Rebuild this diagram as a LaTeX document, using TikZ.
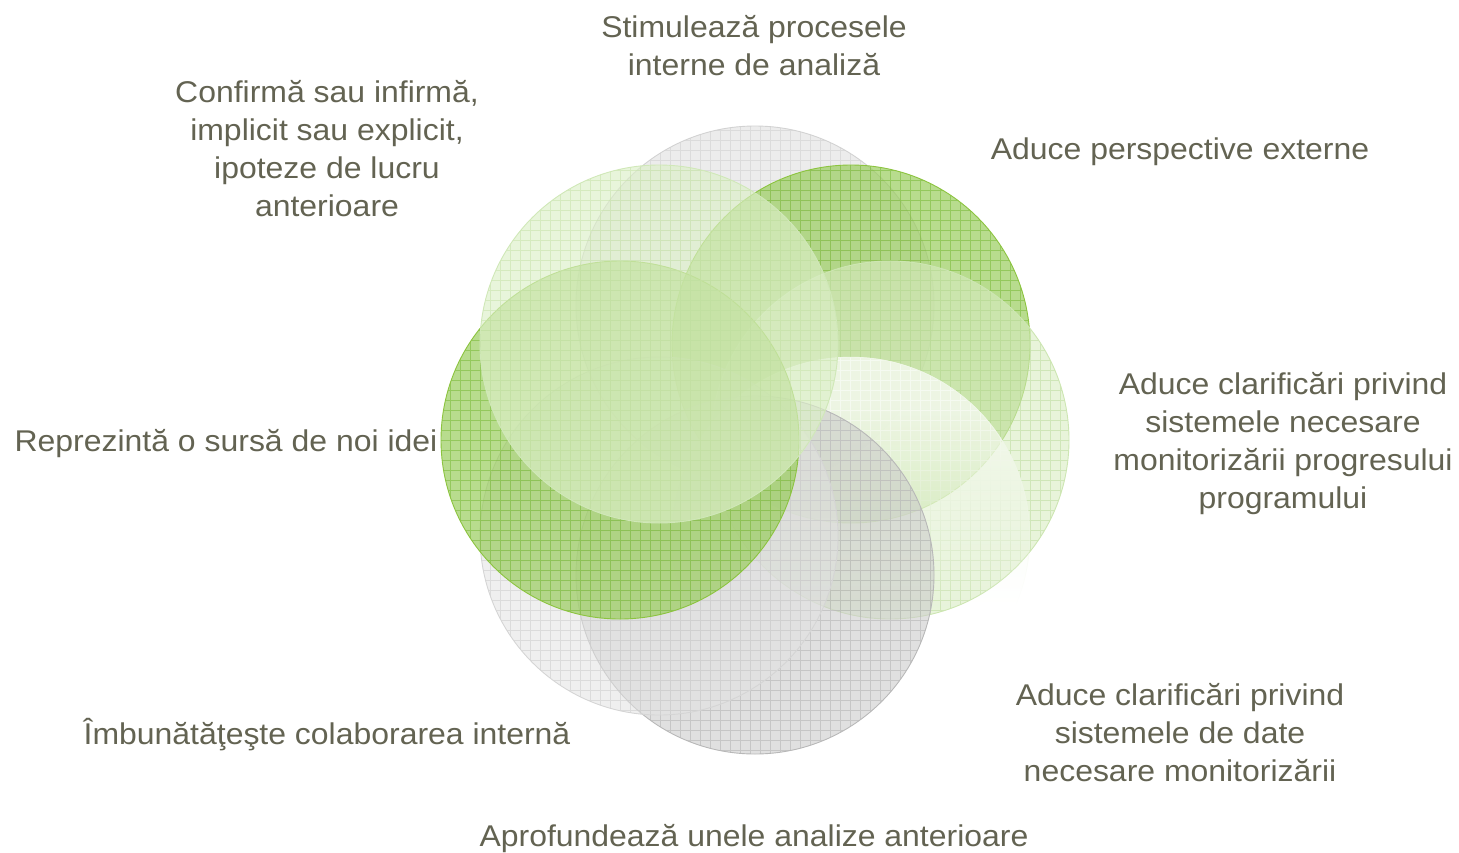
\documentclass[tikz,border=0pt]{standalone}
\usepackage{fontspec}
\setmainfont{Liberation Sans}[FakeStretch=1.065]
\usetikzlibrary{fadings}
\pgfdeclareverticalshading{discfadesh}{100bp}{color(0bp)=(black); color(40bp)=(black); color(54bp)=(gray); color(68bp)=(white); color(100bp)=(white)}
\pgfdeclarefading{discfade}{\pgfuseshading{discfadesh}}
\definecolor{txt}{HTML}{636352}
\definecolor{fA}{HTML}{E0E0E0}\definecolor{gA}{HTML}{CDCDCD}\definecolor{eA}{HTML}{D2D2D2}
\definecolor{fB}{HTML}{9ACD5E}\definecolor{gB}{HTML}{78B835}\definecolor{eB}{HTML}{8CC43F}
\definecolor{fC}{HTML}{D8ECC2}\definecolor{gC}{HTML}{BCDB9C}\definecolor{eC}{HTML}{CDE6B2}
\definecolor{fD}{HTML}{F4F9EE}\definecolor{gD}{HTML}{FFFFFF}\definecolor{eD}{HTML}{F0F7E8}
\definecolor{fE}{HTML}{CCCCCC}\definecolor{gE}{HTML}{B0B0B0}\definecolor{eE}{HTML}{B8B8B8}
\definecolor{fF}{HTML}{E2E2E2}\definecolor{gF}{HTML}{CCCCCC}\definecolor{eF}{HTML}{D5D5D5}
\definecolor{fG}{HTML}{9ACD5E}\definecolor{gG}{HTML}{78B835}\definecolor{eG}{HTML}{8CC43F}
\definecolor{fH}{HTML}{DCEFC8}\definecolor{gH}{HTML}{C6E2A8}\definecolor{eH}{HTML}{D0E8B8}
\newcommand{\ringdisc}[7]{%
  \begin{scope}
    \clip (#1,#2) circle[radius=179];
    \fill[#3, opacity=#4, #7] (#1-181,#2+181) rectangle (#1+181,#2-181);
    \draw[#5, line width=0.7pt, opacity=0.55, step=10pt, #7] (#1-181,#2+181) grid (#1+181,#2-181);
  \end{scope}
  \draw[#6, line width=0.9pt, #7] (#1,#2) circle[radius=179];
}
\tikzset{lbl/.style={align=center, text=txt, inner sep=0pt,
  font=\fontsize{30}{38}\selectfont}}
\begin{document}
\begin{tikzpicture}[x=1pt, y=-1pt]
\useasboundingbox (0,0) rectangle (1459,852);
\ringdisc{755}{305}{fA}{0.6}{gA}{eA}{}
\ringdisc{851}{344}{fB}{0.7}{gB}{eB}{}
\ringdisc{890}{440}{fC}{0.6}{gC}{eC}{}
\ringdisc{851}{536}{fD}{0.85}{gD}{eD}{path fading=discfade}
\ringdisc{755}{575}{fE}{0.6}{gE}{eE}{}
\ringdisc{659}{536}{fF}{0.55}{gF}{eF}{}
\ringdisc{620}{440}{fG}{0.7}{gG}{eG}{}
\ringdisc{659}{344}{fH}{0.65}{gH}{eH}{}
\node[lbl] (t1) at (754,46) {Stimulează procesele\\interne de analiză};
\node[lbl] (t2) at (1180,152) {Aduce perspective externe};
\node[lbl] (t3) at (1283,444) {Aduce clarificări privind\\sistemele necesare\\monitorizării progresului\\programului};
\node[lbl] (t4) at (1180,733) {Aduce clarificări privind\\sistemele de date\\necesare monitorizării};
\node[lbl] (t5) at (754,839) {Aprofundează unele analize anterioare};
\node[lbl] (t6) at (327,735) {Îmbunătăţeşte colaborarea internă};
\node[lbl] (t7) at (226,444) {Reprezintă o sursă de noi idei};
\node[lbl] (t8) at (327,149) {Confirmă sau infirmă,\\implicit sau explicit,\\ipoteze de lucru\\anterioare};
\end{tikzpicture}
\end{document}
